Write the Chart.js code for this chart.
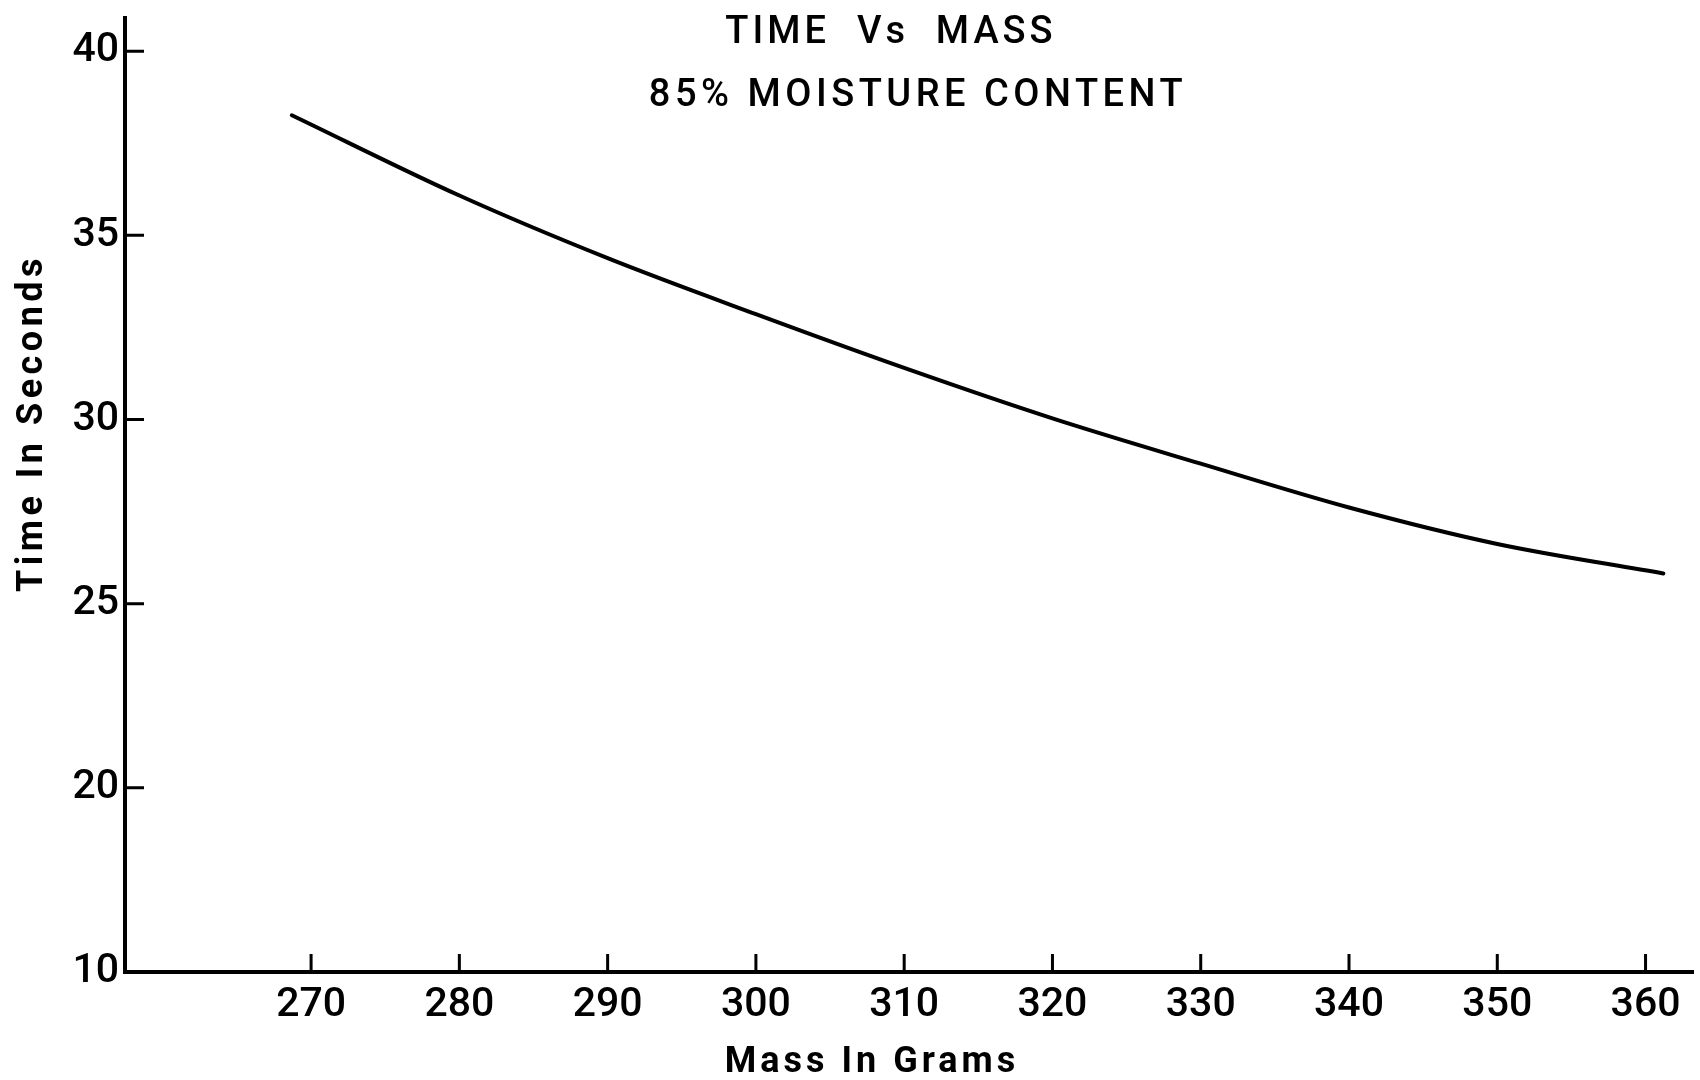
<!DOCTYPE html>
<html>
<head>
<meta charset="utf-8">
<title>Time Vs Mass</title>
<script src="https://cdn.jsdelivr.net/npm/chart.js@4.4.1/dist/chart.umd.min.js"></script>
<style>
  html, body { margin: 0; padding: 0; background: #fff; }
  #wrap { width: 1700px; height: 1080px; }
</style>
</head>
<body>
<div id="wrap"><canvas id="chart" width="1700" height="1080"></canvas></div>
<script>
"use strict";

// ── Data ───────────────────────────────────────────────────────────── //
const massGrams   = [268.7, 280, 290, 300, 310, 320, 330, 340, 350, 361.2];
const timeSeconds = [38.26, 36.08, 34.38, 32.86, 31.4, 30.03, 28.8, 27.61, 26.62, 25.82];

const xTickValues = [270, 280, 290, 300, 310, 320, 330, 340, 350, 360];
// bottom of the axis is broken: the 15 position carries the label "10"
const yTickValues = [15, 20, 25, 30, 35, 40];
const yTickLabels = ["10", "20", "25", "30", "35", "40"];

const titleLines = ["TIME  Vs  MASS", "85% MOISTURE CONTENT"];
const xTitle = "Mass In Grams";
const yTitle = "Time In Seconds";

const INK = "#000";
const FACE = "Roboto, 'Liberation Sans', Arial, sans-serif";
const TICK_FONT = { family: FACE, size: 41, weight: "500" };

// ── Plugins ────────────────────────────────────────────────────────── //
// tick marks point into the plot, like the hand-drawn original
const innerTicks = {
  id: "innerTicks",
  afterDraw(chart) {
    const { ctx, scales: { x, y } } = chart;
    ctx.save();
    ctx.strokeStyle = INK;
    ctx.lineWidth = 3;
    ctx.beginPath();
    xTickValues.forEach(v => {
      const px = x.getPixelForValue(v);
      ctx.moveTo(px, y.bottom);
      ctx.lineTo(px, y.bottom - 18);
    });
    yTickValues.slice(1).forEach(v => {
      const py = y.getPixelForValue(v);
      ctx.moveTo(x.left, py);
      ctx.lineTo(x.left + 19, py);
    });
    ctx.stroke();
    ctx.restore();
  },
};

const lettering = {
  id: "lettering",
  afterDraw(chart) {
    const { ctx } = chart;
    ctx.save();
    ctx.fillStyle = INK;
    ctx.textAlign = "center";
    ctx.textBaseline = "middle";

    ctx.font = `500 38px ${FACE}`;
    ctx.letterSpacing = "4px";
    ctx.fillText(titleLines[0], 891, 33);
    ctx.letterSpacing = "4.5px";
    ctx.fillText(titleLines[1], 918, 96);

    ctx.font = `bold 36px ${FACE}`;
    ctx.letterSpacing = "4px";
    ctx.fillText(xTitle, 872, 1063);

    ctx.translate(33, 423);
    ctx.rotate(-Math.PI / 2);
    ctx.letterSpacing = "4.5px";
    ctx.fillText(yTitle, 0, 0);
    ctx.restore();
  },
};

// ── Chart ──────────────────────────────────────────────────────────── //
const ctx = document.getElementById("chart").getContext("2d");
new Chart(ctx, {
  type: "line",
  data: {
    datasets: [{
      data: massGrams.map((m, i) => ({ x: m, y: timeSeconds[i] })),
      borderColor: INK,
      borderWidth: 4,
      pointRadius: 0,
      fill: false,
      cubicInterpolationMode: "monotone",
      borderCapStyle: "round",
    }],
  },
  options: {
    responsive: false,
    animation: false,
    layout: { padding: { top: 18, right: 7, left: 0, bottom: 0 } },
    plugins: {
      legend: { display: false },
      tooltip: { enabled: false },
    },
    scales: {
      x: {
        type: "linear",
        min: 257.45,
        max: 363.2,
        afterBuildTicks: s => { s.ticks = xTickValues.map(v => ({ value: v })); },
        afterFit: s => { s.height = 108; s.paddingLeft = 0; s.paddingRight = 0; },
        grid: { display: false, drawTicks: false },
        border: { display: true, color: INK, width: 4 },
        ticks: { color: INK, font: TICK_FONT, padding: 9, maxRotation: 0, autoSkip: false },
      },
      y: {
        min: 15,
        max: 40.9,
        afterBuildTicks: s => { s.ticks = yTickValues.map(v => ({ value: v })); },
        afterFit: s => { s.width = 125; s.paddingTop = 0; s.paddingBottom = 0; },
        grid: { display: false, drawTicks: false },
        border: { display: true, color: INK, width: 4 },
        ticks: {
          color: INK,
          font: TICK_FONT,
          padding: 6,
          autoSkip: false,
          callback: v => yTickLabels[yTickValues.indexOf(v)],
        },
      },
    },
  },
  plugins: [innerTicks, lettering],
});
</script>
</body>
</html>
